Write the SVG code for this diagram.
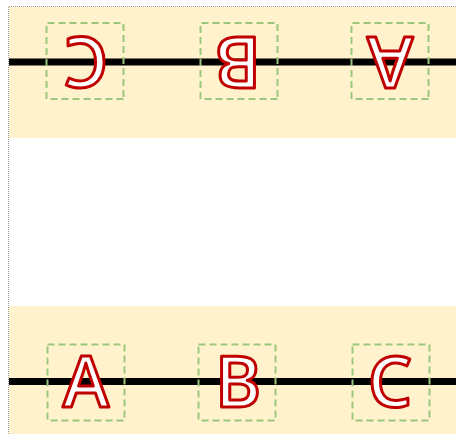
<svg xmlns="http://www.w3.org/2000/svg" width="456" height="434" viewBox="0 0 456 434">
<style>
.band{fill:#fff2cc}
.frame{stroke:#999;stroke-width:1;stroke-dasharray:1 1;fill:none}
.bar{stroke:#000;stroke-width:7}
.box{fill:none;stroke:#9bc77c;stroke-width:2;stroke-dasharray:7 4}
.lt{font-family:"Open Sans","Liberation Sans",sans-serif;font-size:70px;font-weight:600;fill:#fff;stroke:#c00000;stroke-width:3;stroke-linejoin:round;text-anchor:middle}
</style>
<rect class="band" x="9" y="7" width="447" height="131"/>
<rect class="band" x="9" y="306" width="447" height="128"/>
<path class="frame" d="M8.5,434V6.5H456"/>
<g id="connectors">
<line class="bar" x1="9" y1="62" x2="456" y2="62"/>
<line class="bar" x1="9" y1="381.5" x2="456" y2="381.5"/>
</g>
<g id="bottom-A"><rect class="box" x="47.5" y="344.5" width="77" height="76"/><text class="lt" x="86" y="407">A</text></g>
<g id="bottom-B"><rect class="box" x="198.5" y="344.5" width="77" height="76"/><text class="lt" x="238" y="407">B</text></g>
<g id="bottom-C"><rect class="box" x="352.5" y="344.5" width="77" height="76"/><text class="lt" x="390" y="407">C</text></g>
<g transform="rotate(180 238 221.75)">
<g id="top-A"><rect class="box" x="47.5" y="344.5" width="77" height="76"/><text class="lt" x="86" y="407">A</text></g>
<g id="top-B"><rect class="box" x="198.5" y="344.5" width="77" height="76"/><text class="lt" x="238" y="407">B</text></g>
<g id="top-C"><rect class="box" x="352.5" y="344.5" width="77" height="76"/><text class="lt" x="390" y="407">C</text></g>
</g>
</svg>
